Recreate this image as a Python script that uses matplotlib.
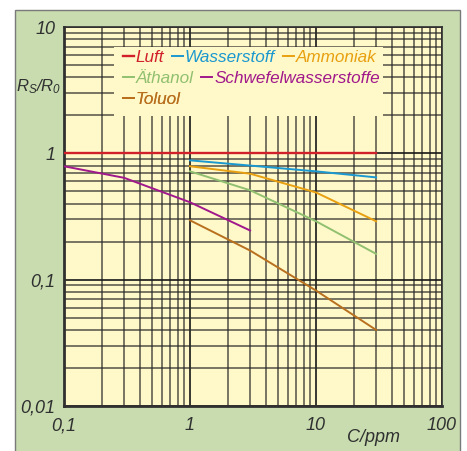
import matplotlib
matplotlib.use('Agg')
import matplotlib.pyplot as plt
from matplotlib.patches import Rectangle
from matplotlib.ticker import LogLocator, NullFormatter

plt.rcParams['font.family'] = ['Liberation Sans', 'DejaVu Sans']
plt.rcParams['font.style'] = 'italic'
plt.rcParams['mathtext.fontset'] = 'custom'
plt.rcParams['mathtext.it'] = 'Liberation Sans:italic'
plt.rcParams['mathtext.rm'] = 'Liberation Sans:italic'

# data (C in ppm, Rs/R0)
luft_x = [0.1, 30]
luft_y = [1.0, 1.0]
wasser_x = [1, 3, 10, 30]
wasser_y = [0.88, 0.80, 0.72, 0.645]
ammoniak_x = [1, 3, 10, 30]
ammoniak_y = [0.79, 0.69, 0.49, 0.29]
aethanol_x = [1, 3, 10, 30]
aethanol_y = [0.72, 0.51, 0.29, 0.16]
schwefel_x = [0.1, 0.3, 1, 3]
schwefel_y = [0.79, 0.64, 0.41, 0.245]
toluol_x = [1, 3, 10, 30]
toluol_y = [0.295, 0.17, 0.082, 0.040]

names = ['Luft', 'Wasserstoff', 'Ammoniak', 'Äthanol', 'Schwefelwasserstoffe', 'Toluol']
colors = ['#d0202a', '#1a98d0', '#e8a010', '#90c070', '#a0188c', '#b8701e']

xticks = [0.1, 1, 10, 100]
xticklabels = ['0,1', '1', '10', '100']
yticks = [0.01, 0.1, 1, 10]
yticklabels = ['0,01', '0,1', '1', '10']

fig = plt.figure(figsize=(4.67, 4.51), dpi=100)
fig.patch.set_facecolor('white')
# green panel
fig.patches.append(Rectangle((15/467, -0.02), 445/467, 441/451 + 0.02,
                             transform=fig.transFigure, facecolor='#c8dcb0',
                             edgecolor='#7a7a7a', linewidth=1.0, zorder=-1))

ax = fig.add_axes([64/467, 1-406/451, 378/467, 379/451])
ax.set_zorder(1)
ax.set_facecolor('#fff8c8')
ax.set_xscale('log')
ax.set_yscale('log')
ax.set_xlim(0.1, 100)
ax.set_ylim(0.01, 10)

ax.xaxis.set_minor_locator(LogLocator(base=10, subs=range(2, 10)))
ax.yaxis.set_minor_locator(LogLocator(base=10, subs=range(2, 10)))
ax.xaxis.set_minor_formatter(NullFormatter())
ax.yaxis.set_minor_formatter(NullFormatter())
ax.set_xticks(xticks, xticklabels)
ax.set_yticks(yticks, yticklabels)
ax.set_axisbelow(True)
ax.grid(which='major', color='#181818', linewidth=1.2)
ax.grid(which='minor', color='#282828', linewidth=1.1, alpha=0.8)
ax.tick_params(which='both', length=0, labelsize=13, labelcolor='#303030')
ax.tick_params(axis='x', pad=8)
ax.tick_params(axis='y', pad=6)
for s in ax.spines.values():
    s.set_color('#303030')
    s.set_linewidth(1.2)
ax.spines['left'].set_linewidth(2)
ax.spines['bottom'].set_linewidth(2)

# box that hides the grid behind the legend
ax.add_patch(Rectangle(((114-64)/378, (406-116)/379), (383-114)/378, (116-47)/379,
                       transform=ax.transAxes, facecolor='#fff8c8', edgecolor='none', zorder=1))

series = [(luft_x, luft_y), (wasser_x, wasser_y), (ammoniak_x, ammoniak_y),
          (aethanol_x, aethanol_y), (schwefel_x, schwefel_y), (toluol_x, toluol_y)]
lines = []
for (x, y), n, c in zip(series, names, colors):
    lw = 1.7 if n == 'Luft' else 1.4
    l, = ax.plot(x, y, color=c, linewidth=lw, label=n, zorder=3)
    lines.append(l)

rows = [[0, 1, 2], [3, 4], [5]]
row_y = [57, 78, 99]
for r, yy in zip(rows, row_y):
    leg = ax.legend([lines[i] for i in r], [names[i] for i in r], ncol=len(r),
                    loc='center left', bbox_to_anchor=((123-64)/378, (406-yy)/379),
                    frameon=False, handlelength=0.65, handletextpad=0.1,
                    columnspacing=0.45, borderpad=0, borderaxespad=0,
                    labelcolor='linecolor', prop={'size': 12.3, 'style': 'italic'})
    ax.add_artist(leg)

fig.text(39/467, 1-87/451, r'$R_S/R_0$', ha='center', va='center', fontsize=12, color='#303030')
fig.text(373/467, 1-438/451, 'C/ppm', ha='center', va='center', fontsize=13, color='#303030')

fig.savefig('out.png', dpi=100)
